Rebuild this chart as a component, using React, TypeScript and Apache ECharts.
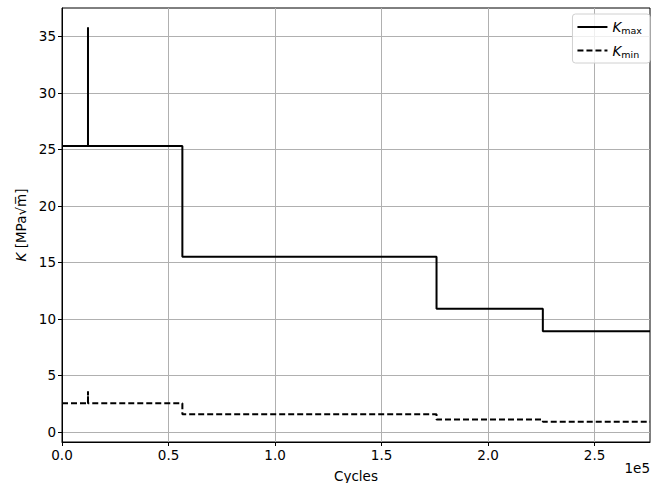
import React, { useEffect, useRef } from "react";
import * as echarts from "echarts";

const cyclesPath = [0, 12200, 12200, 12200, 56500, 56500, 175800, 175800, 225700, 225700, 276000];
const kmaxValues = [25.3, 25.3, 35.8, 25.3, 25.3, 15.5, 15.5, 10.9, 10.9, 8.9, 8.9];
const kminValues = [2.53, 2.53, 3.58, 2.53, 2.53, 1.55, 1.55, 1.09, 1.09, 0.89, 0.89];
const xTicks = [0, 50000, 100000, 150000, 200000, 250000];
const yTicks = [0, 5, 10, 15, 20, 25, 30, 35];

const FONT = "DejaVu Sans";

export default function App() {
  const ref = useRef<HTMLDivElement>(null);
  useEffect(() => {
    if (!ref.current) return;
    const chart = echarts.init(ref.current, null, { renderer: "svg" });
    const toPairs = (ys: number[]) => cyclesPath.map((x, i) => [x, ys[i]]);
    const rich = {
      i: { fontFamily: FONT, fontSize: 13.5, fontStyle: "italic", color: "#000" },
      s: { fontFamily: FONT, fontSize: 9.5, color: "#000", padding: [7, 0, 0, 0] },
    };
    chart.setOption({
      animation: false,
      backgroundColor: "#fff",
      grid: {
        left: 62, right: 12, top: 8, bottom: 41,
        outerBoundsMode: "none",
        containLabel: false,
        show: true, borderColor: "#000", borderWidth: 1, backgroundColor: "transparent",
      },
      xAxis: {
        type: "value",
        min: 0,
        max: 276000,
        name: "Cycles",
        nameLocation: "middle",
        nameGap: 27,
        nameTextStyle: { fontFamily: FONT, fontSize: 13.5, color: "#000" },
        axisLine: { onZero: false, lineStyle: { color: "#000", width: 1 } },
        axisTick: { show: true, length: 4, customValues: xTicks, lineStyle: { color: "#000" } },
        axisLabel: {
          customValues: xTicks,
          formatter: (v: number) => (v / 1e5).toFixed(1),
          fontFamily: FONT, fontSize: 13.5, color: "#000", margin: 6,
        },
        splitLine: { show: true, lineStyle: { color: "#b0b0b0", width: 1 } },
      },
      yAxis: {
        type: "value",
        min: -0.9,
        max: 37.5,
        name: "{i|K} [MPa√m\u0305]",
        nameLocation: "middle",
        nameRotate: 90,
        nameGap: 34,
        nameTextStyle: {
          fontFamily: FONT, fontSize: 13.5, color: "#000",
          rich: { i: { fontFamily: FONT, fontSize: 13.5, fontStyle: "italic", color: "#000" } },
        },
        axisLine: { show: true, onZero: false, lineStyle: { color: "#000", width: 1 } },
        axisTick: { show: true, length: 4, customValues: yTicks, lineStyle: { color: "#000" } },
        axisLabel: {
          customValues: yTicks,
          fontFamily: FONT, fontSize: 13.5, color: "#000", margin: 6,
        },
        splitLine: { show: true, lineStyle: { color: "#b0b0b0", width: 1 } },
      },
      legend: {
        right: 12,
        top: 14,
        orient: "vertical",
        itemWidth: 30,
        itemHeight: 10,
        itemGap: 8,
        padding: [6, 8, 4, 4],
        borderColor: "#d0d0d0",
        borderWidth: 1,
        borderRadius: 3,
        backgroundColor: "rgba(255,255,255,0.8)",
        itemStyle: { opacity: 0 },
        data: [{ name: "Kmax" }, { name: "Kmin" }],
        formatter: (name: string) => (name === "Kmax" ? "{i|K}{s|max}" : "{i|K}{s|min}"),
        textStyle: { fontFamily: FONT, fontSize: 13.5, color: "#000", rich },
      },
      graphic: [
        {
          type: "text",
          right: 12,
          top: 461,
          style: { text: "1e5", fontFamily: FONT, fontSize: 13.5, fill: "#000" },
        },
      ],
      series: [
        {
          name: "Kmax",
          type: "line",
          data: toPairs(kmaxValues),
          symbol: "none",
          lineStyle: { color: "#000", width: 2 },
          itemStyle: { color: "#000" },
        },
        {
          name: "Kmin",
          type: "line",
          data: toPairs(kminValues),
          symbol: "none",
          lineStyle: { color: "#000", width: 2, type: [6, 3] },
          itemStyle: { color: "#000" },
        },
      ],
    });
    return () => chart.dispose();
  }, []);
  return <div ref={ref} style={{ width: 662, height: 483, position: "absolute", left: 0, top: 0 }} />;
}
